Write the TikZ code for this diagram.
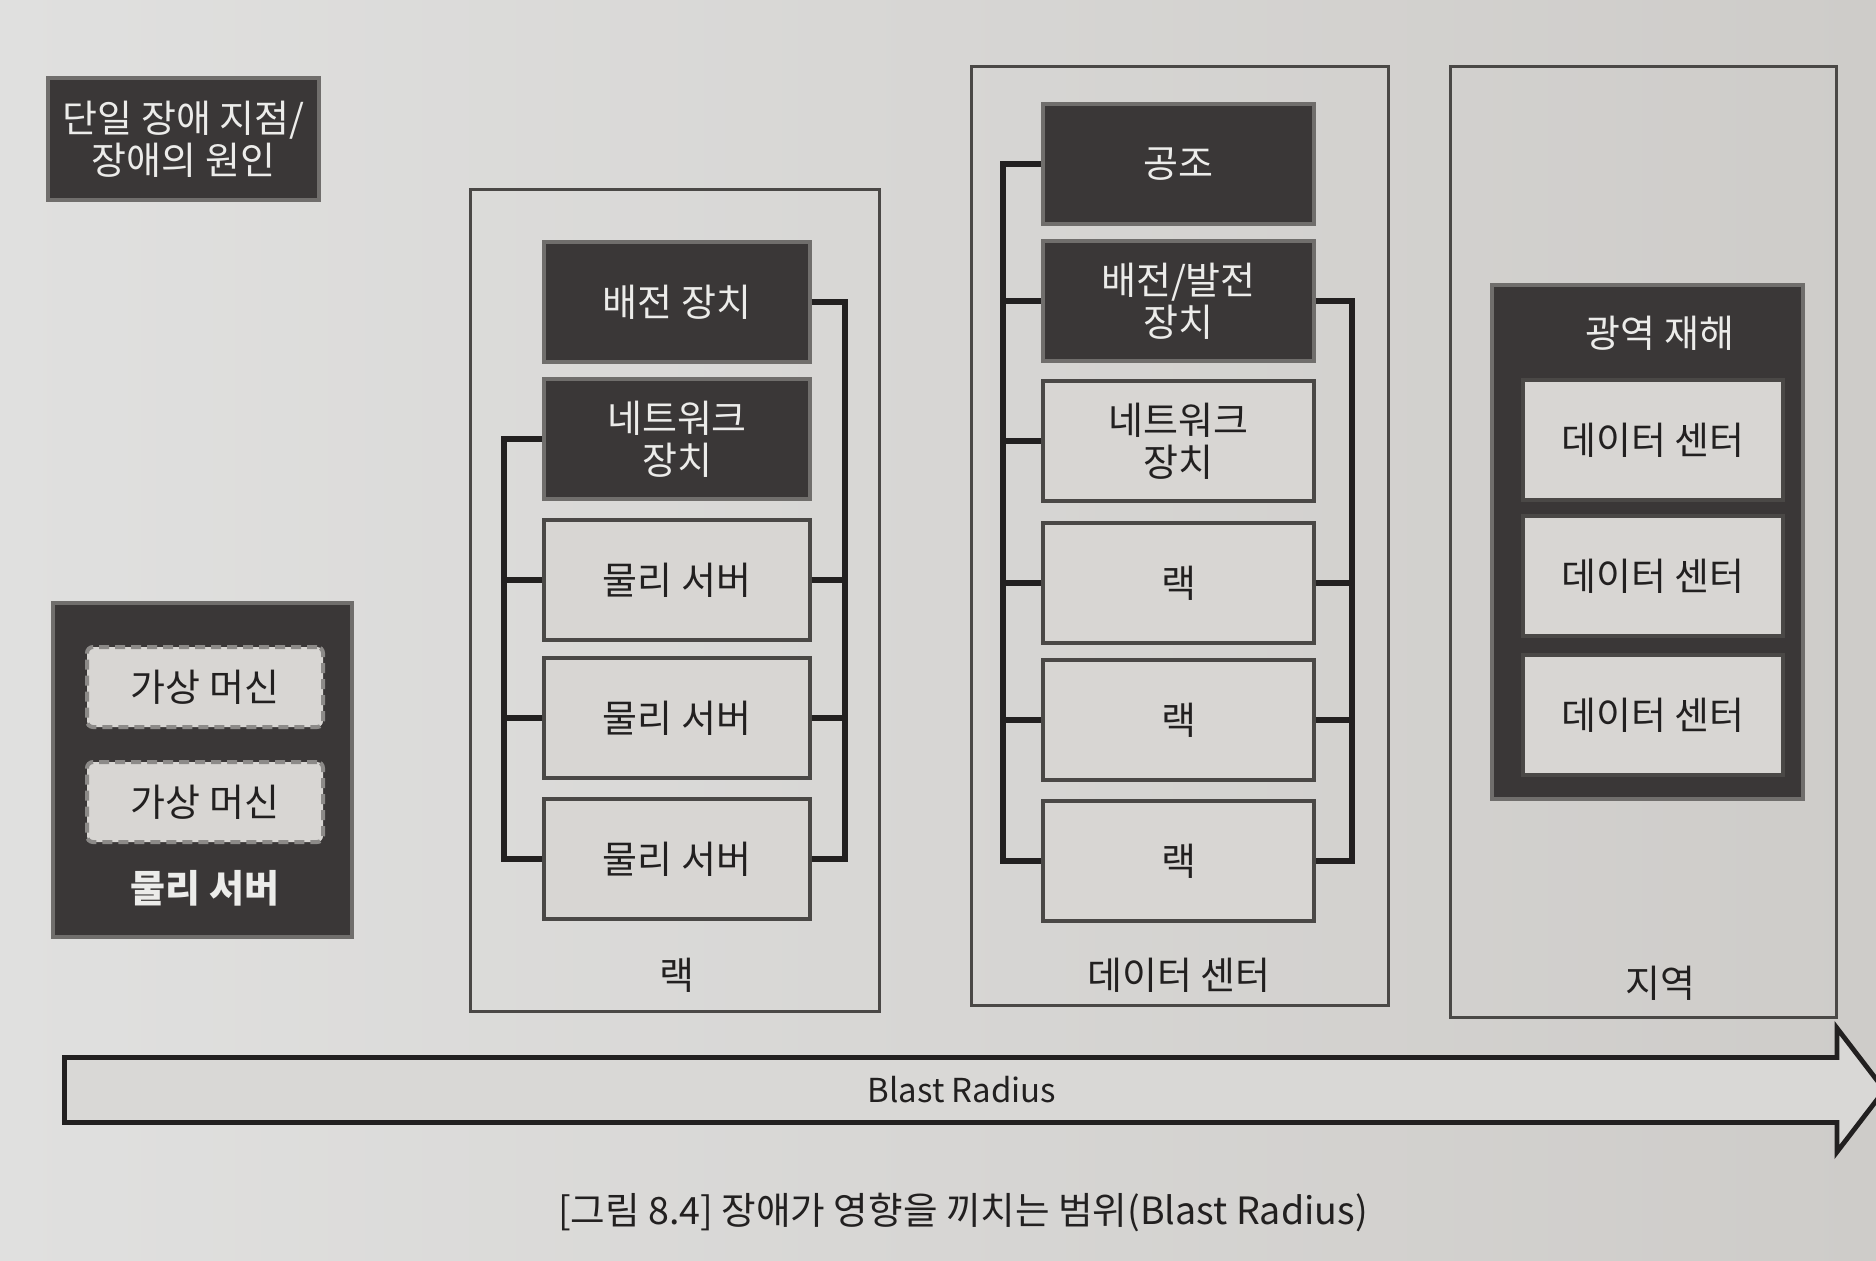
\documentclass[tikz,border=0pt]{standalone}
\usepackage{fontspec}
\setmainfont{Noto Sans CJK KR}
\usetikzlibrary{shapes.arrows}
\definecolor{paperL}{RGB}{224,224,223}
\definecolor{paperR}{RGB}{206,204,201}
\definecolor{darkfill}{RGB}{58,55,55}
\definecolor{darkedge}{RGB}{112,110,108}
\definecolor{lightfill}{RGB}{216,214,211}
\definecolor{lightedge}{RGB}{74,72,70}
\definecolor{ink}{RGB}{34,32,32}
\definecolor{wtext}{RGB}{236,236,234}
\definecolor{dashedge}{RGB}{140,138,136}
\begin{document}
\begin{tikzpicture}[x=0.5pt,y=-0.5pt,
  every node/.style={font=\fontsize{19}{21}\selectfont, inner sep=0pt, align=center},
  darkbox/.style={draw=darkedge, line width=1.6pt, fill=darkfill, text=wtext},
  lightbox/.style={draw=lightedge, line width=1.6pt, fill=lightfill, text=ink},
  rackitem/.style={minimum width=133pt, minimum height=60pt},
  dcitem/.style={minimum width=135.5pt, minimum height=60pt},
  regitem/.style={lightbox, minimum width=130pt, minimum height=60pt},
  container/.style={draw=lightedge, line width=1.5pt},
  bus/.style={draw=ink, line width=2.6pt, line join=miter},
  vmbox/.style={draw=dashedge, dashed, dash pattern=on 5pt off 3pt, line width=2pt, fill=lightfill, text=ink, rounded corners=3pt, minimum width=118pt, minimum height=40pt},
  lbl/.style={text=ink}
]
\useasboundingbox (0,0) rectangle (1876,1260);
\shade[left color=paperL, right color=paperR] (0,0) rectangle (1876,1260);

% legend
\node[darkbox, minimum width=135.5pt, minimum height=61pt] (spof) at (183.5,139) {단일 장애 지점/\\장애의 원인};

% physical server
\node[darkbox, minimum width=149.5pt, minimum height=167pt] (pserver) at (202.5,770) {};
\node[vmbox] (vm1) at (205,687) {가상 머신};
\node[vmbox] (vm2) at (205,802) {가상 머신};
\node[text=wtext, font=\fontsize{19}{21}\selectfont\bfseries] (pslbl) at (205,888) {물리 서버};

% rack
\node[container, minimum width=204.5pt, minimum height=411pt] (rack) at (674.5,600) {};
\node[lbl] (racklbl) at (677,975) {랙};
\node[darkbox, rackitem] (rpow) at (677,302) {배전 장치};
\node[darkbox, rackitem] (rnet) at (677,439) {네트워크\\장치};
\node[lightbox, rackitem] (rs1) at (677,580) {물리 서버};
\node[lightbox, rackitem] (rs2) at (677,718) {물리 서버};
\node[lightbox, rackitem] (rs3) at (677,859) {물리 서버};
\coordinate (rL) at (504,0);
\coordinate (rR) at (845,0);
\draw[bus] (rnet.west) -- (rnet.west -| rL) -- (rs3.west -| rL) -- (rs3.west);
\draw[bus] (rs1.west -| rL) -- (rs1.west);
\draw[bus] (rs2.west -| rL) -- (rs2.west);
\draw[bus] (rpow.east) -- (rpow.east -| rR) -- (rs3.east -| rR) -- (rs3.east);
\draw[bus] (rs1.east) -- (rs1.east -| rR);
\draw[bus] (rs2.east) -- (rs2.east -| rR);

% data center
\node[container, minimum width=208.5pt, minimum height=469.5pt] (dc) at (1179.5,535.5) {};
\node[lbl] (dclbl) at (1179,975) {데이터 센터};
\node[darkbox, dcitem] (dair) at (1178.5,164) {공조};
\node[darkbox, dcitem] (dpow) at (1178.5,301) {배전/발전\\장치};
\node[lightbox, dcitem] (dnet) at (1178.5,441) {네트워크\\장치};
\node[lightbox, dcitem] (dr1) at (1178.5,583) {랙};
\node[lightbox, dcitem] (dr2) at (1178.5,720) {랙};
\node[lightbox, dcitem] (dr3) at (1178.5,861) {랙};
\coordinate (dL) at (1003,0);
\coordinate (dR) at (1352,0);
\draw[bus] (dair.west) -- (dair.west -| dL) -- (dr3.west -| dL) -- (dr3.west);
\draw[bus] (dpow.west -| dL) -- (dpow.west);
\draw[bus] (dnet.west -| dL) -- (dnet.west);
\draw[bus] (dr1.west -| dL) -- (dr1.west);
\draw[bus] (dr2.west -| dL) -- (dr2.west);
\draw[bus] (dpow.east) -- (dpow.east -| dR) -- (dr3.east -| dR) -- (dr3.east);
\draw[bus] (dr1.east) -- (dr1.east -| dR);
\draw[bus] (dr2.east) -- (dr2.east -| dR);

% region
\node[container, minimum width=193pt, minimum height=475.5pt] (region) at (1643,541.5) {};
\node[lbl] (reglbl) at (1660,983) {지역};
\node[darkbox, minimum width=155.5pt, minimum height=257pt] (wide) at (1647.5,542) {};
\node[text=wtext] (widelbl) at (1660,333) {광역 재해};
\node[regitem] (g1) at (1653,440) {데이터 센터};
\node[regitem] (g2) at (1653,576) {데이터 센터};
\node[regitem] (g3) at (1653,715) {데이터 센터};

% blast radius arrow
\node[single arrow, draw=ink, line width=2.4pt, fill=paperL!60!paperR,
      minimum height=910pt, minimum width=62pt, single arrow head extend=13.5pt,
      single arrow tip angle=105, inner xsep=0pt, inner ysep=7pt, text=ink,
      font=\fontsize{16.5}{20}\selectfont]
      (blast) at (962,1090) {Blast Radius};

% caption
\node[text=ink, font=\fontsize{18.8}{22}\selectfont] (cap) at (963,1212) {[그림 8.4] 장애가 영향을 끼치는 범위(Blast Radius)};
\end{tikzpicture}
\end{document}
